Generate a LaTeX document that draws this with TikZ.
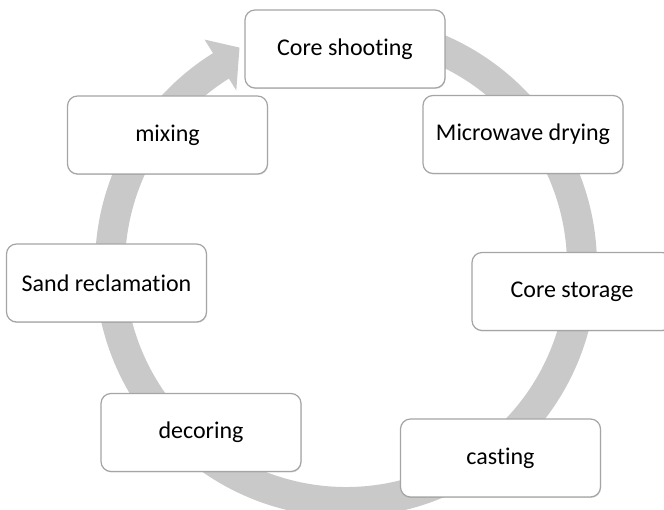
\documentclass[tikz,border=0pt]{standalone}
\usepackage{fontspec}
\setmainfont{Carlito}[Ligatures=NoCommon]
\usetikzlibrary{shadows}
\definecolor{ringgray}{RGB}{201,201,201}
\definecolor{boxline}{RGB}{165,165,165}
\tikzset{
  stagebox/.style={draw=boxline, line width=1.2pt, fill=white, rounded corners=10pt,
    minimum width=200pt, minimum height=78pt, inner sep=0pt,
    font=\fontsize{24}{28}\selectfont, text=black,
    drop shadow={opacity=0.25, shadow xshift=0.6pt, shadow yshift=-1pt}},
}
\begin{document}
\begin{tikzpicture}[x=1pt,y=1pt]
\useasboundingbox (0,0) rectangle (664,510);
% circular arrow
\begin{scope}[shift={(346,244)}]
\fill[ringgray] (90:251) arc[start angle=90, end angle=-238, radius=251]
  -- (-238:267) -- (-244:243) -- (-238:207) -- (-238:221)
  arc[start angle=-238, end angle=90, radius=221] -- cycle;
\end{scope}
% boxes (pixel centres, y measured from top)
\node[stagebox] (shoot) at (345,510-49) {Core shooting};
\node[stagebox] (micro) at (523,510-134.5) {Microwave drying};
\node[stagebox] (store) at (572,510-291.5) {Core storage};
\node[stagebox] (cast)  at (500.5,510-458) {casting};
\node[stagebox] (decor) at (201,510-432.5) {decoring};
\node[stagebox] (sand)  at (106.5,510-283) {Sand reclamation};
\node[stagebox] (mix)   at (167.5,510-135) {mixing};
\end{tikzpicture}
\end{document}
